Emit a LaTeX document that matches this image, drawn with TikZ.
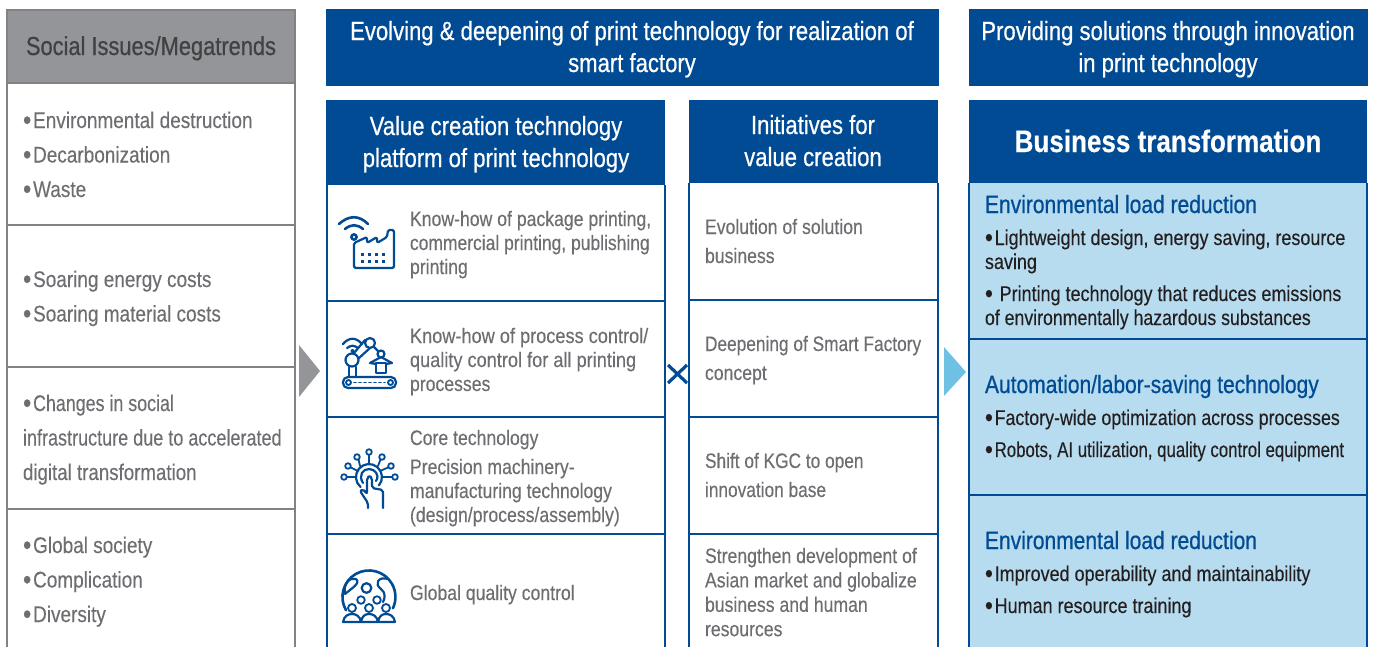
\documentclass[tikz,border=0pt]{standalone}
\usepackage{fontspec}
\setmainfont{Liberation Sans}[FakeStretch=0.84,FakeBold=0.25]
\newfontfamily\medfont{Liberation Sans}[FakeStretch=0.84,FakeBold=0.6]
\newfontfamily\heavyfont{Liberation Sans Bold}[FakeStretch=0.84,FakeBold=0.4]
\definecolor{navy}{RGB}{0,75,147}
\definecolor{headgrey}{RGB}{147,149,152}
\definecolor{edgegrey}{RGB}{128,130,133}
\definecolor{lightblue}{RGB}{183,220,239}
\definecolor{arrowblue}{RGB}{111,193,228}
\definecolor{txtgrey}{RGB}{109,110,113}
\definecolor{darktxt}{RGB}{65,64,66}
\definecolor{blk}{RGB}{35,31,32}
\newcommand{\tx}[5]{\node[#1] (#2) at (#3,{#4-22}) {\rule{0pt}{22pt}#5};}
\newcommand{\bl}{\raisebox{-0.07em}{\scalebox{1.25}{•}}\kern 1.8pt}
\newcommand{\sq}[2]{\scalebox{#1}[1]{#2}}
\tikzset{
  base text/.style={inner sep=0pt,outer sep=0pt},
  issue/.style={base text,anchor=north west,align=left,text=txtgrey,font=\fontsize{22.6}{34.5}\selectfont},
  tech/.style={base text,anchor=north west,align=left,text=txtgrey,font=\fontsize{21}{24}\selectfont},
  init/.style={base text,anchor=north west,align=left,text=txtgrey,font=\fontsize{21}{29}\selectfont},
  initb/.style={base text,anchor=north west,align=left,text=txtgrey,font=\fontsize{21}{24.4}\selectfont},
  sol/.style={base text,anchor=north west,align=left,text=blk,font=\fontsize{21.4}{24}\selectfont},
  solhead/.style={base text,anchor=north west,align=left,text=navy,font=\medfont\fontsize{25}{28}\selectfont},
  whitehead/.style={base text,anchor=north,align=center,text=white,font=\medfont\fontsize{26.3}{32}\selectfont},
  greyline/.style={draw=edgegrey,line width=2pt},
  navyline/.style={draw=navy,line width=2pt},
  icon/.style={draw=navy,line width=2.2pt,line join=round,line cap=round,fill=none},
  thin icon/.style={icon,line width=1.8pt},
}
\begin{document}
\begin{tikzpicture}[x=1pt,y=-1pt]
\useasboundingbox (0,0) rectangle (1373,646);
\clip (0,0) rectangle (1373,646);
% left column
\draw[greyline,fill=headgrey] (7,10) rectangle (295,83);
\draw[greyline] (7,83) -- (7,660) (295,83) -- (295,660);
\draw[greyline] (7,225) -- (295,225) (7,367) -- (295,367) (7,509) -- (295,509);
\tx{base text,anchor=north,text=darktxt,font=\medfont\fontsize{26}{30}\selectfont}{issuehead}{151}{55}{Social Issues/Megatrends}
\tx{issue}{issueA}{23}{128}{\bl Environmental destruction\\\bl Decarbonization\\\bl Waste}
\tx{issue}{issueB}{23}{287}{\bl Soaring energy costs\\\bl Soaring material costs}
\tx{issue}{issueC}{23}{411}{\bl \sq{0.94}{Changes in social}\\\sq{0.95}{infrastructure due to accelerated}\\\sq{0.985}{digital transformation}}
\tx{issue}{issueD}{23}{553}{\bl Global society\\\bl Complication\\\bl Diversity}
% top banners
\fill[navy] (326,9) rectangle (939,86);
\fill[navy] (969,9) rectangle (1368,86);
\tx{whitehead}{bannerA}{632}{40}{Evolving \& deepening of print technology for realization of\\smart factory}
\tx{whitehead}{bannerB}{1168}{40}{Providing solutions through innovation\\in print technology}
% column 2
\fill[navy] (326,100) rectangle (665,185);
\draw[navyline] (327,185) -- (327,660) (665,185) -- (665,660);
\draw[navyline] (327,301) -- (665,301) (327,417) -- (665,417) (327,534) -- (665,534);
\tx{whitehead}{platform}{496}{135}{Value creation technology\\platform of print technology}
\tx{tech}{techA}{410}{226}{Know-how of package printing,\\\sq{0.99}{commercial printing, publishing}\\printing}
\tx{tech}{techB}{410}{343}{\sq{1.03}{Know-how of process control/}\\\sq{1.03}{quality control for all printing}\\processes}
\tx{tech}{techC}{410}{445}{Core technology}
\tx{tech}{techD}{410}{474}{Precision machinery-\\manufacturing technology\\(design/process/assembly)}
\tx{tech}{techE}{410}{600}{Global quality control}
% column 3
\fill[navy] (689,100) rectangle (938,183);
\draw[navyline] (689,183) -- (689,660) (938,183) -- (938,660);
\draw[navyline] (689,300) -- (938,300) (689,417) -- (938,417) (689,534) -- (938,534);
\tx{whitehead}{initiatives}{813}{134}{Initiatives for\\value creation}
\tx{init}{initA}{705}{234}{Evolution of solution\\business}
\tx{init}{initB}{705}{351}{\sq{0.98}{Deepening of Smart Factory}\\concept}
\tx{init}{initC}{705}{468}{\sq{0.98}{Shift of KGC to open}\\\sq{0.98}{innovation base}}
\tx{initb}{initD}{705}{563}{Strengthen development of\\Asian market and globalize\\business and human\\resources}
% column 4
\fill[lightblue] (969,183) rectangle (1367,660);
\fill[navy] (969,100) rectangle (1367,183);
\draw[navyline] (969,183) -- (969,660) (1367,183) -- (1367,660);
\draw[navyline] (969,339) -- (1367,339) (969,495) -- (1367,495);
\node[base text,anchor=base,text=white,font=\heavyfont\fontsize{31}{36}\selectfont] (bizhead) at (1168,152) {Business transformation};
\tx{solhead}{solA}{985}{213}{Environmental load reduction}
\tx{sol}{solAa}{985}{245}{\bl Lightweight design, energy saving, resource\\saving}
\tx{sol}{solAb}{985}{301}{\bl\ Printing technology that reduces emissions\\\sq{0.985}{of environmentally hazardous substances}}
\tx{solhead}{solB}{985}{393}{Automation/labor-saving technology}
\tx{sol}{solBa}{985}{425}{\bl \sq{0.99}{Factory-wide optimization across processes}}
\tx{sol}{solBb}{985}{457}{\bl \sq{0.935}{Robots, AI utilization, quality control equipment}}
\tx{solhead}{solC}{985}{549}{Environmental load reduction}
\tx{sol}{solCa}{985}{581}{\bl Improved operability and maintainability}
\tx{sol}{solCb}{985}{613}{\bl Human resource training}
% arrows and cross
\fill[headgrey] (299,345) -- (320,371) -- (299,397) -- cycle;
\fill[arrowblue] (944,347) -- (966,372) -- (944,396) -- cycle;
\draw[navy,line width=3.2pt] (668,365) -- (687,383) (687,365) -- (668,383);
% factory icon
\draw[icon,rounded corners=1.5pt] (354,243) -- (367,237) -- (367,243) -- (377,237) -- (377,243) -- (387,237) -- (388,230) -- (394,230) -- (394,268) -- (354,268) -- cycle;
\foreach \wx in {362,369,376,383}\foreach \wy in {254,261}\fill[navy] (\wx-1.5,\wy-1.5) rectangle (\wx+1.5,\wy+1.5);
\draw[icon,line width=2.6pt] (339,224) .. controls (349,215) and (359,215) .. (368,224);
\draw[icon,line width=2.6pt] (345,229) .. controls (351,224) and (357,224) .. (363,229);
\draw[icon,line width=2.6pt] (354,237) circle (2.6);
% robot icon
\draw[icon,rounded corners=5pt] (343,377) rectangle (396,388);
\draw[thin icon] (348.5,382.5) circle (2.5) (390.5,382.5) circle (2.5);
\draw[thin icon,dash pattern=on 2pt off 3pt] (354,382.5) -- (385,382.5);
\draw[icon] (349,367) -- (349,377) (356,367) -- (356,377);
\draw[icon] (352,360) circle (6.5);
\draw[icon] (354,353) -- (365,340) (359,358) -- (370,348);
\draw[icon] (370,343) circle (5);
\draw[icon] (374,347) -- (378,351);
\draw[icon] (381,354) circle (3.5);
\draw[icon] (376,364) -- (370,363) -- (381,357) -- (392,363) -- (386,364);
\draw[icon] (376,363) -- (376,373) -- (386,373) -- (386,363) -- cycle;
\draw[icon] (343,344) .. controls (349,337) and (356,337) .. (362,344);
\draw[icon] (347,348) .. controls (351,345) and (354,345) .. (358,348);
\fill[navy] (352.5,351) circle (2);
% touch icon
\draw[icon] (360.6,487) arc[start angle=130,end angle=400,radius=13];
\draw[icon] (363,483) .. controls (358,475) and (363,469) .. (369,469) .. controls (375,469) and (380,475) .. (376,481);
\draw[thin icon] (369,464) -- (369,455) (360,466) -- (358.5,459.5) (378,466) -- (380.5,459.5) (358,471) -- (351,467.5) (380,471) -- (388,467.5) (356,477) -- (347,477) (382,477) -- (392,477);
\foreach \cx/\cy in {369/452,357/457,382/457,348/466,391/466,344/477,395/477}\draw[thin icon,fill=white] (\cx,\cy) circle (2.8);
\draw[icon,fill=white,rounded corners=2pt] (368,508) -- (368,503) -- (360,491) -- (363,489) -- (367,494) -- (367,478) -- (369.5,475.5) -- (372,478) -- (372,488) -- (383,490) -- (383,508);
% globe icon
\draw[icon,line width=2.6pt] (346,610.2) arc[start angle=150,end angle=385,radius=26.5];
\draw[icon] (345,594) .. controls (343,583) and (350,577) .. (356,579) .. controls (361,583) and (352,588) .. (345,594);
\draw[icon] (366.5,588) circle (4.8);
\draw[icon] (388,579) .. controls (378,576) and (374,584) .. (381,589) .. controls (386,593) and (385,598) .. (383,602);
\draw[thin icon,fill=white] (361,600) circle (3.8) (377,600) circle (3.8);
\draw[thin icon,fill=white] (352,608) circle (4) (369,608) circle (4) (386,608) circle (4);
\draw[icon,fill=white] (343,622) .. controls (344,616) and (348,614) .. (352,614) .. controls (356,614) and (360,616) .. (361,622) .. controls (362,616) and (365,614) .. (369,614) .. controls (373,614) and (377,616) .. (378,622) .. controls (379,616) and (382,614) .. (386,614) .. controls (390,614) and (394,616) .. (395,622) -- cycle;
\end{tikzpicture}
\end{document}
